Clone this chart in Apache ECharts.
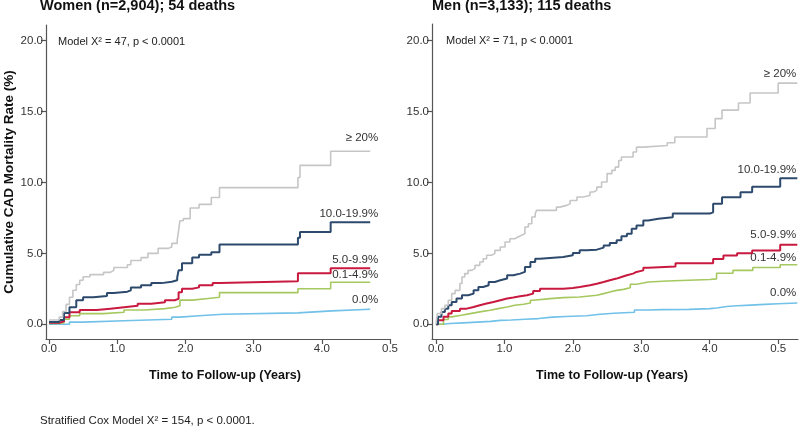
<!DOCTYPE html>
<html><head><meta charset="utf-8">
<script src="https://cdn.jsdelivr.net/npm/echarts@6/dist/echarts.min.js"></script>
<style>html,body{margin:0;padding:0;background:#fff}#c{width:800px;height:433px}</style>
</head><body><div id="c"></div>
<script>
// ---- data ----
const xTicks = [0, 1, 2, 3, 4, 5];
const xTickLabels = ['0.0', '1.0', '2.0', '3.0', '4.0', '0.5'];
const yTicks = [0, 5, 10, 15, 20];
const groupLabels = ['≥ 20%', '10.0-19.9%', '5.0-9.9%', '0.1-4.9%', '0.0%'];
const panelTitles = ['Women (n=2,904); 54 deaths', 'Men (n=3,133); 115 deaths'];
const modelTexts = ['Model X\u00b2 = 47, p < 0.0001', 'Model X\u00b2 = 71, p < 0.0001'];
const footerText = 'Stratified Cox Model X\u00b2 = 154, p < 0.0001.';

// Women: [years, cumulative %]
const women_ge20 = [[0,0.3],[0.15,0.5],[0.2,0.9],[0.25,1.4],[0.3,1.9],[0.35,2.4],[0.4,2.8],[0.45,3.1],[0.5,3.35],[0.6,3.5],[0.8,3.66],[0.9,3.8],[0.95,4.0],[1.15,4.2],[1.2,4.5],[1.35,4.7],[1.45,5.0],[1.6,5.35],[1.75,5.45],[1.8,5.7],[1.88,5.95],[1.9,6.6],[1.92,7.3],[1.97,7.45],[2.07,8.2],[2.2,8.45],[2.38,8.94],[2.5,9.63],[3.65,10.35],[3.68,11.2],[4.13,12.2],[4.71,12.2]];
const women_10 = [[0,0.15],[0.15,0.3],[0.22,0.8],[0.3,1.2],[0.4,1.7],[0.5,1.9],[0.65,2.0],[0.85,2.2],[0.95,2.3],[1.15,2.4],[1.2,2.6],[1.35,2.75],[1.5,2.9],[1.65,3.0],[1.8,3.1],[1.88,3.3],[1.9,3.8],[1.95,4.3],[2.1,4.7],[2.2,4.9],[2.38,5.07],[2.5,5.63],[3.65,6.1],[3.68,6.5],[4.13,7.2],[4.71,7.2]];
const women_5 = [[0,0.1],[0.15,0.2],[0.22,0.5],[0.3,0.85],[0.45,1.0],[0.7,1.1],[0.9,1.2],[1.1,1.3],[1.3,1.45],[1.5,1.55],[1.7,1.7],[1.85,1.8],[1.9,2.25],[1.95,2.5],[2.1,2.6],[2.2,2.75],[2.4,2.9],[2.5,3.03],[3.65,3.6],[4.13,3.94],[4.71,3.94]];
const women_01 = [[0,0.05],[0.15,0.1],[0.22,0.35],[0.3,0.6],[0.45,0.75],[0.8,0.85],[1.1,1.0],[1.4,1.1],[1.7,1.2],[1.85,1.3],[1.92,1.7],[2.1,1.8],[2.3,1.9],[2.5,2.23],[3.65,2.5],[4.13,2.96],[4.71,2.96]];
const women_0 = [[0,0],[0.3,0.15],[0.5,0.25],[1.1,0.35],[1.8,0.5],[1.92,0.6],[2.2,0.7],[2.55,0.8],[3.65,0.94],[4.15,1.06],[4.71,1.06]];

// Men
const men_ge20 = [[0,0],[0.01,0.05],[0.02,0.76],[0.08,1.1],[0.13,1.34],[0.18,1.69],[0.23,2.16],[0.28,2.39],[0.35,2.87],[0.38,3.33],[0.42,3.57],[0.47,3.8],[0.52,3.92],[0.57,4.15],[0.64,4.39],[0.69,4.62],[0.74,4.86],[0.81,4.98],[0.86,5.21],[0.94,5.45],[1.01,5.8],[1.08,6.03],[1.15,6.15],[1.2,6.27],[1.25,6.39],[1.3,6.86],[1.35,7.09],[1.4,7.56],[1.45,7.8],[1.47,8.03],[1.76,8.26],[1.81,8.38],[1.91,8.5],[1.96,8.73],[2.06,8.97],[2.15,9.08],[2.25,9.32],[2.3,9.44],[2.35,9.67],[2.42,10.03],[2.5,10.62],[2.57,10.85],[2.62,11.08],[2.67,11.55],[2.71,11.79],[2.88,12.14],[2.93,12.49],[3.03,12.6],[3.38,12.8],[3.49,13.2],[3.96,13.8],[4.08,14.5],[4.18,15.1],[4.42,15.6],[4.59,16.3],[5.0,17.0],[5.28,17.0]];
const men_10 = [[0,0],[0.03,0.52],[0.08,0.87],[0.13,1.1],[0.18,1.34],[0.23,1.57],[0.3,1.81],[0.38,2.04],[0.47,2.16],[0.55,2.39],[0.62,2.63],[0.69,2.75],[0.77,2.98],[0.86,3.1],[0.94,3.22],[1.04,3.45],[1.13,3.57],[1.23,3.69],[1.3,4.04],[1.38,4.39],[1.45,4.62],[1.52,4.74],[1.86,4.86],[2.0,5.02],[2.1,5.21],[2.2,5.26],[2.35,5.4],[2.45,5.56],[2.54,5.73],[2.64,5.92],[2.71,6.2],[2.79,6.38],[2.86,6.74],[2.93,6.97],[3.03,7.32],[3.1,7.44],[3.25,7.55],[3.46,7.8],[4.0,7.9],[4.05,8.5],[4.18,8.95],[4.45,9.3],[4.62,9.7],[5.03,10.3],[5.28,10.3]];
const men_5 = [[0,0],[0.03,0.28],[0.11,0.52],[0.18,0.75],[0.23,0.94],[0.35,1.1],[0.45,1.22],[0.55,1.34],[0.64,1.46],[0.74,1.57],[0.84,1.69],[0.94,1.81],[1.04,1.88],[1.13,1.97],[1.23,2.04],[1.33,2.16],[1.42,2.35],[1.52,2.51],[1.86,2.56],[2.0,2.63],[2.1,2.75],[2.25,2.86],[2.35,2.98],[2.45,3.1],[2.54,3.22],[2.64,3.33],[2.71,3.45],[2.79,3.57],[2.88,3.69],[2.93,3.8],[3.03,3.99],[3.1,4.08],[3.5,4.3],[4.0,4.3],[4.05,4.6],[4.2,4.85],[4.4,5.0],[4.62,5.2],[5.03,5.6],[5.28,5.6]];
const men_01 = [[0,0],[0.11,0.33],[0.18,0.52],[0.23,0.63],[0.37,0.75],[0.5,0.87],[0.64,0.99],[0.79,1.1],[0.91,1.22],[1.04,1.34],[1.15,1.41],[1.28,1.5],[1.38,1.69],[1.42,1.81],[1.67,1.88],[1.86,1.92],[2.1,2.04],[2.35,2.16],[2.45,2.28],[2.54,2.39],[2.64,2.46],[2.74,2.58],[2.84,2.82],[2.93,2.91],[3.03,2.98],[3.1,3.05],[3.38,3.15],[4.0,3.2],[4.1,3.6],[4.34,3.8],[4.63,4.0],[5.03,4.2],[5.28,4.2]];
const men_0 = [[0,0],[0.1,0.05],[0.2,0.1],[0.4,0.15],[0.6,0.2],[0.8,0.27],[0.94,0.3],[1.1,0.35],[1.3,0.4],[1.5,0.5],[1.7,0.55],[1.9,0.6],[2.2,0.7],[2.4,0.78],[2.6,0.85],[2.9,1.0],[3.1,1.03],[3.3,1.05],[3.7,1.1],[4.0,1.15],[4.1,1.25],[4.25,1.3],[4.4,1.35],[4.6,1.4],[4.8,1.45],[5.0,1.5],[5.28,1.5]];

// ---- styles ----
const FONT = '"Liberation Sans", Arial, Helvetica, sans-serif';
const colors = ['#c6c6c6', '#2d4a6d', '#c8193f', '#a6c860', '#72c1e8'];
const widths = [1.6, 2, 2, 1.6, 1.6];
const panels = [
  {data: [women_ge20, women_10, women_5, women_01, women_0], labelDx: 8, labelDy: [-13, -8, -9, -7, -9]},
  {data: [men_ge20, men_10, men_5, men_01, men_0], labelDx: -1, labelDy: [-9, -8, -10, -7, -10]}
];

const chart = echarts.init(document.getElementById('c'), null, {renderer: 'canvas'});
const axisColor = '#555';

function xAxis(gi, min, max) {
  return {
    type: 'value', gridIndex: gi, min: min, max: max,
    splitLine: {show: false},
    axisLine: {onZero: false, lineStyle: {color: axisColor, width: 1.2}},
    axisTick: {customValues: xTicks, length: 5, lineStyle: {color: axisColor, width: 1.2}},
    axisLabel: {customValues: xTicks, color: '#333', fontSize: 11.5, fontFamily: FONT, margin: 4,
      formatter: v => xTickLabels[xTicks.indexOf(Math.round(v))]},
    name: 'Time to Follow-up (Years)', nameLocation: 'middle', nameGap: 30,
    nameTextStyle: {fontWeight: 'bold', fontSize: 12.5, color: '#111', fontFamily: FONT,
      padding: gi === 0 ? [0, 0, 0, 14] : [0, 6, 0, 0]}
  };
}
function yAxis(gi, max, withName) {
  const a = {
    type: 'value', gridIndex: gi, min: -1.04, max: max,
    splitLine: {show: false},
    axisLine: {onZero: false, lineStyle: {color: axisColor, width: 1.2}},
    axisTick: {customValues: yTicks, length: 5, lineStyle: {color: axisColor, width: 1.2}},
    axisLabel: {customValues: yTicks, color: '#333', fontSize: 11.5, fontFamily: FONT, margin: 3,
      formatter: v => Number(v).toFixed(1)}
  };
  if (withName) {
    a.name = 'Cumulative CAD Mortality Rate (%)';
    a.nameLocation = 'middle';
    a.nameGap = 28;
    a.nameTextStyle = {fontWeight: 'bold', fontSize: 13.5, color: '#111', fontFamily: FONT};
  }
  return a;
}

const series = [];
panels.forEach((p, gi) => {
  p.data.forEach((d, k) => {
    series.push({
      type: 'line', step: 'end', xAxisIndex: gi, yAxisIndex: gi, data: d,
      showSymbol: false, silent: true, animation: false, z: 10 - k,
      lineStyle: {color: colors[k], width: widths[k]}, itemStyle: {color: colors[k]}
    });
  });
});

const option = {
  animation: false,
  backgroundColor: '#fff',
  textStyle: {fontFamily: FONT},
  grid: [
    {left: 46, top: 25, width: 344, height: 314},
    {left: 432, top: 24, width: 366, height: 315}
  ],
  xAxis: [xAxis(0, -0.044, 5.0), xAxis(1, -0.058, 5.29)],
  yAxis: [yAxis(0, 21.1, true), yAxis(1, 21.17, false)],
  title: [
    {text: panelTitles[0], left: 40, top: -2, padding: 0, textStyle: {fontSize: 14.5, fontWeight: 'bold', color: '#111', fontFamily: FONT}},
    {text: panelTitles[1], left: 432, top: -2, padding: 0, textStyle: {fontSize: 14.5, fontWeight: 'bold', color: '#111', fontFamily: FONT}}
  ],
  series: series
};
chart.setOption(option);

const graphics = [
  {type: 'text', left: 58, top: 36, style: {text: modelTexts[0], fontSize: 11, fill: '#222', fontFamily: FONT}},
  {type: 'text', left: 446, top: 35, style: {text: modelTexts[1], fontSize: 11, fill: '#222', fontFamily: FONT}},
  {type: 'text', left: 40, top: 415, style: {text: footerText, fontSize: 11.5, fill: '#222', fontFamily: FONT}}
];
panels.forEach((p, gi) => {
  p.data.forEach((d, k) => {
    const last = d[d.length - 1];
    const px = chart.convertToPixel({gridIndex: gi}, last);
    graphics.push({
      type: 'text', x: px[0] + p.labelDx, y: px[1] + p.labelDy[k],
      style: {text: groupLabels[k], fontSize: 11.5, fill: '#333', fontFamily: FONT, align: 'right', verticalAlign: 'middle'}
    });
  });
});
chart.setOption({graphic: graphics});
</script>
</body></html>
